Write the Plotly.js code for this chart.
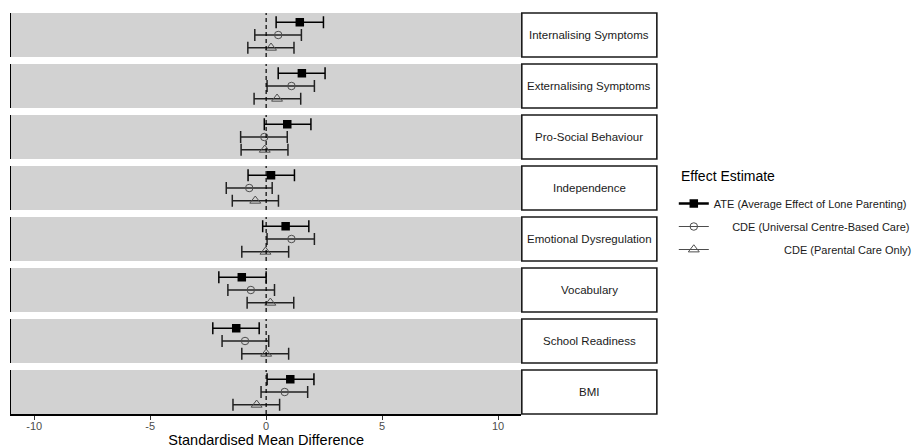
<!DOCTYPE html>
<html>
<head>
<meta charset="utf-8">
<script src="https://cdn.plot.ly/plotly-3.0.1.min.js"></script>
<style>html,body{margin:0;padding:0;background:#fff;}#chart{width:917px;height:448px;}</style>
</head>
<body>
<div id="chart"></div>
<script>
// ---- data ----
var outcomes = ["Internalising Symptoms","Externalising Symptoms","Pro-Social Behaviour","Independence","Emotional Dysregulation","Vocabulary","School Readiness","BMI"];
var seriesNames = ["ATE (Average Effect of Lone Parenting)","CDE (Universal Centre-Based Care)","CDE (Parental Care Only)"];
var legendTitle = "Effect Estimate";

var ateEst = [1.45, 1.54, 0.91, 0.21, 0.84, -1.05, -1.29, 1.04];
var ateLo  = [0.43, 0.52, -0.08, -0.78, -0.15, -2.04, -2.30, 0.04];
var ateHi  = [2.47, 2.54, 1.93, 1.22, 1.84, 0.00, -0.30, 2.06];

var uniEst = [0.52, 1.09, -0.08, -0.73, 1.09, -0.66, -0.91, 0.80];
var uniLo  = [-0.49, 0.04, -1.10, -1.72, 0.04, -1.65, -1.90, -0.22];
var uniHi  = [1.52, 2.08, 0.91, 0.26, 2.08, 0.36, 0.11, 1.79];

var parEst = [0.21, 0.47, -0.06, -0.47, -0.03, 0.18, 0.00, -0.41];
var parLo  = [-0.79, -0.52, -1.08, -1.46, -1.05, -0.82, -1.05, -1.43];
var parHi  = [1.20, 1.49, 0.94, 0.53, 0.97, 1.19, 0.97, 0.58];

var xTicks = [-10, -5, 0, 5, 10];

// ---- styles ----
var FONT = "Liberation Sans, Arial, sans-serif";
var NB = "\u00A0";
function pad(n) { var s = ""; for (var k = 0; k < n; k++) s += NB; return s; }
var series = [
  {est: ateEst, lo: ateLo, hi: ateHi, symbol: "square", msize: 8.5, mcolor: "#000", mline: "#000", mlw: 0, ecolor: "#000", lcolor: "#000", lw: 2.5, pad: 0},
  {est: uniEst, lo: uniLo, hi: uniHi, symbol: "circle-open", msize: 7.5, mcolor: "#4d4d4d", mline: "#4d4d4d", mlw: 1, ecolor: "#222", lcolor: "#4d4d4d", lw: 1, pad: 6},
  {est: parEst, lo: parLo, hi: parHi, symbol: "triangle-up-open", msize: 9.5, mcolor: "#4d4d4d", mline: "#4d4d4d", mlw: 1, ecolor: "#222", lcolor: "#4d4d4d", lw: 1, pad: 23}
];

var W = 917, H = 448;
var mL = 11, mR = 0, mT = 13, mB = 33;
var plotW = W - mL - mR, plotH = H - mT - mB;
var panelH = 44, panelGap = 7;
var xEnd = (523 - mL) / plotW;
var stripX1 = (659 - mL) / plotW;

var traces = [];
var shapes = [];
var annotations = [];
var layout = {
  width: W, height: H,
  margin: {l: mL, r: mR, t: mT, b: mB},
  paper_bgcolor: "#fff",
  plot_bgcolor: "#d2d2d2",
  font: {family: FONT, color: "#000"},
  showlegend: true,
  legend: {
    x: (676 - mL) / plotW, xanchor: "left",
    y: 1 - (189 - mT) / plotH, yanchor: "top",
    font: {size: 11, color: "#1a1a1a"},
    traceorder: "grouped",
    tracegroupgap: 4,
    bgcolor: "rgba(0,0,0,0)"
  },
  xaxis: {
    domain: [0, xEnd],
    anchor: "y8",
    range: [-11, 11],
    tickvals: xTicks,
    ticktext: xTicks.map(String),
    ticks: "outside", ticklen: 4, tickcolor: "#333", tickwidth: 1,
    ticklabelstandoff: -3,
    tickfont: {size: 11, color: "#4d4d4d"},
    showline: true, linecolor: "#000", linewidth: 1.5,
    showgrid: false, zeroline: false,
    title: {text: "Standardised Mean Difference", font: {size: 14.5, color: "#000"}, standoff: 1}
  }
};

for (var i = 0; i < outcomes.length; i++) {
  var topPx = i * (panelH + panelGap);
  var d1 = 1 - topPx / plotH;
  var d0 = 1 - (topPx + panelH) / plotH;
  var yName = "y" + (i + 1);
  var yKey = "yaxis" + (i + 1);
  layout[yKey] = {
    domain: [d0, d1],
    anchor: "x",
    type: "category",
    categoryorder: "array",
    categoryarray: seriesNames,
    range: [2.72, -0.72],
    showline: true, linecolor: "#000", linewidth: 1.5,
    showticklabels: false, ticks: "",
    showgrid: false, zeroline: false, fixedrange: true
  };
  for (var s = 0; s < series.length; s++) {
    var sr = series[s];
    traces.push({
      type: "scatter",
      mode: "lines+markers",
      x: [sr.est[i]],
      y: [seriesNames[s]],
      xaxis: "x", yaxis: yName,
      name: pad(sr.pad) + seriesNames[s],
      legendgroup: "g" + s,
      showlegend: i === 0,
      line: {color: sr.lcolor, width: sr.lw},
      marker: {symbol: sr.symbol, size: sr.msize, color: sr.mcolor, line: {color: sr.mline, width: sr.mlw}},
      error_x: {
        type: "data", symmetric: false,
        array: [sr.hi[i] - sr.est[i]],
        arrayminus: [sr.est[i] - sr.lo[i]],
        color: sr.ecolor, thickness: 1.5, width: 6
      },
      hoverinfo: "x+name"
    });
  }
  // zero reference line
  shapes.push({
    type: "line", xref: "x", yref: yName + " domain",
    x0: 0, x1: 0, y0: 0, y1: 1,
    line: {color: "#000", width: 1.2, dash: "4px,3px"},
    layer: "above"
  });
  // strip box
  shapes.push({
    type: "rect", xref: "paper", yref: yName + " domain",
    x0: xEnd + 0.5 / plotW, x1: stripX1, y0: 0, y1: 1,
    fillcolor: "#fff",
    line: {color: "#1a1a1a", width: 1.6}
  });
  annotations.push({
    xref: "paper", yref: yName + " domain",
    x: (xEnd + stripX1) / 2, y: 0.5,
    text: outcomes[i], showarrow: false,
    xanchor: "center", yanchor: "middle",
    font: {size: 11.5, color: "#1a1a1a", family: FONT}
  });
}
// legend title
annotations.push({
  xref: "paper", yref: "paper",
  x: (681 - mL) / plotW, y: 1 - (176 - mT) / plotH,
  text: legendTitle, showarrow: false,
  xanchor: "left", yanchor: "middle",
  font: {size: 14, color: "#000", family: FONT}
});
layout.shapes = shapes;
layout.annotations = annotations;

Plotly.newPlot("chart", traces, layout, {displayModeBar: false, staticPlot: true});
</script>
</body>
</html>
